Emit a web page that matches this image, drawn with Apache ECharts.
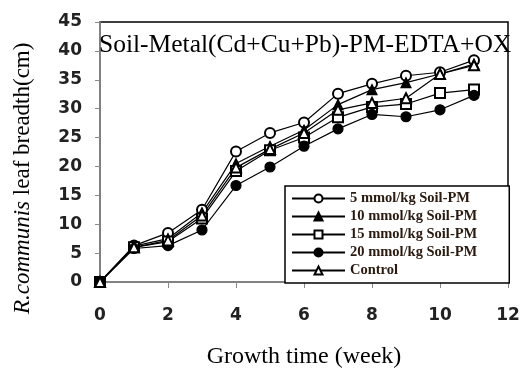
<!DOCTYPE html>
<html>
<head>
<meta charset="utf-8">
<script src="https://cdn.jsdelivr.net/npm/echarts@6/dist/echarts.min.js"></script>
<style>
  html, body { margin: 0; padding: 0; background: #fff; }
  #chart { width: 527px; height: 374px; }
</style>
</head>
<body>
<div id="chart"></div>
<script>
var weeks = [0, 1, 2, 3, 4, 5, 6, 7, 8, 9, 10, 11];
var seriesNames = ['5 mmol/kg Soil-PM', '10 mmol/kg Soil-PM', '15 mmol/kg Soil-PM', '20 mmol/kg Soil-PM', 'Control'];
var mm5 = [0, 6.3, 8.5, 12.5, 22.6, 25.8, 27.6, 32.6, 34.3, 35.7, 36.3, 38.4];
var mm10 = [0, 6.2, 7.5, 12, 20.5, 23.5, 26.3, 30.7, 33.3, 34.5, 36, 37.7];
var mm15 = [0, 6, 7, 11, 19.2, 22.8, 25, 28.5, 30.3, 30.8, 32.7, 33.3];
var mm20 = [0, 5.8, 6.3, 9, 16.7, 19.9, 23.5, 26.5, 29, 28.6, 29.8, 32.3];
var control = [0, 6, 7.2, 11.5, 19.8, 23, 25.8, 29.8, 31, 31.8, 36, 37.5];

var chart = echarts.init(document.getElementById('chart'));
var serif = 'Liberation Serif';

function pairs(vals) {
  return weeks.map(function (w, i) { return [w, vals[i]]; });
}
function line(name, vals, symbol) {
  return {
    name: name,
    type: 'line',
    data: pairs(vals),
    symbol: symbol,
    symbolSize: 10,
    color: '#000',
    lineStyle: { color: '#000', width: 1.2 },
    itemStyle: { color: '#000', borderColor: '#000', borderWidth: 1.2 },
    emphasis: { disabled: true }
  };
}

var option = {
  animation: false,
  backgroundColor: '#fff',
  grid: {
    left: 100, right: 19, top: 22, bottom: 89,
    show: true, borderColor: '#000', borderWidth: 1.5
  },
  title: {
    text: 'Soil-Metal(Cd+Cu+Pb)-PM-EDTA+OX',
    left: 94, top: 27,
    textStyle: { fontFamily: serif, fontSize: 25.5, fontWeight: 'normal', color: '#000' }
  },
  legend: {
    orient: 'vertical',
    left: 285, top: 186,
    padding: [5, 32, 5, 6],
    itemWidth: 53, itemHeight: 10, itemGap: 3,
    borderColor: '#000', borderWidth: 1.5,
    backgroundColor: '#fff',
    textStyle: { fontFamily: serif, fontSize: 14.5, color: '#2a1a10', fontWeight: 'bold' },
    data: seriesNames
  },
  xAxis: {
    type: 'value', min: 0, max: 12, interval: 2,
    name: 'Growth time (week)', nameLocation: 'middle', nameGap: 63,
    nameTextStyle: { fontFamily: serif, fontSize: 24, color: '#000' },
    axisLine: { lineStyle: { color: '#999', width: 1.5 } },
    axisTick: { show: true, length: 6, lineStyle: { color: '#888' } },
    axisLabel: { margin: 25, fontFamily: 'DejaVu Sans', fontSize: 17, fontWeight: 'bold', color: '#222' },
    splitLine: { show: false }
  },
  yAxis: {
    type: 'value', min: 0, max: 45, interval: 5,
    axisLine: { show: true, lineStyle: { color: '#999', width: 1.5 } },
    axisTick: { show: true, length: 5, lineStyle: { color: '#888' } },
    axisLabel: { margin: 18, fontFamily: 'DejaVu Sans', fontSize: 17, fontWeight: 'bold', color: '#222' },
    splitLine: { show: false }
  },
  graphic: [{
    type: 'text',
    x: 11, y: 314,
    rotation: Math.PI / 2,
    style: {
      text: '{i|R.communis} leaf breadth(cm)',
      fontFamily: serif, fontSize: 23, fill: '#000',
      rich: { i: { fontFamily: serif, fontSize: 23, fontStyle: 'italic', fill: '#000' } }
    }
  }],
  series: [
    line(seriesNames[0], mm5, 'emptyCircle'),
    line(seriesNames[1], mm10, 'triangle'),
    line(seriesNames[2], mm15, 'emptyRect'),
    line(seriesNames[3], mm20, 'circle'),
    line(seriesNames[4], control, 'emptyTriangle')
  ]
};
chart.setOption(option);
</script>
</body>
</html>
